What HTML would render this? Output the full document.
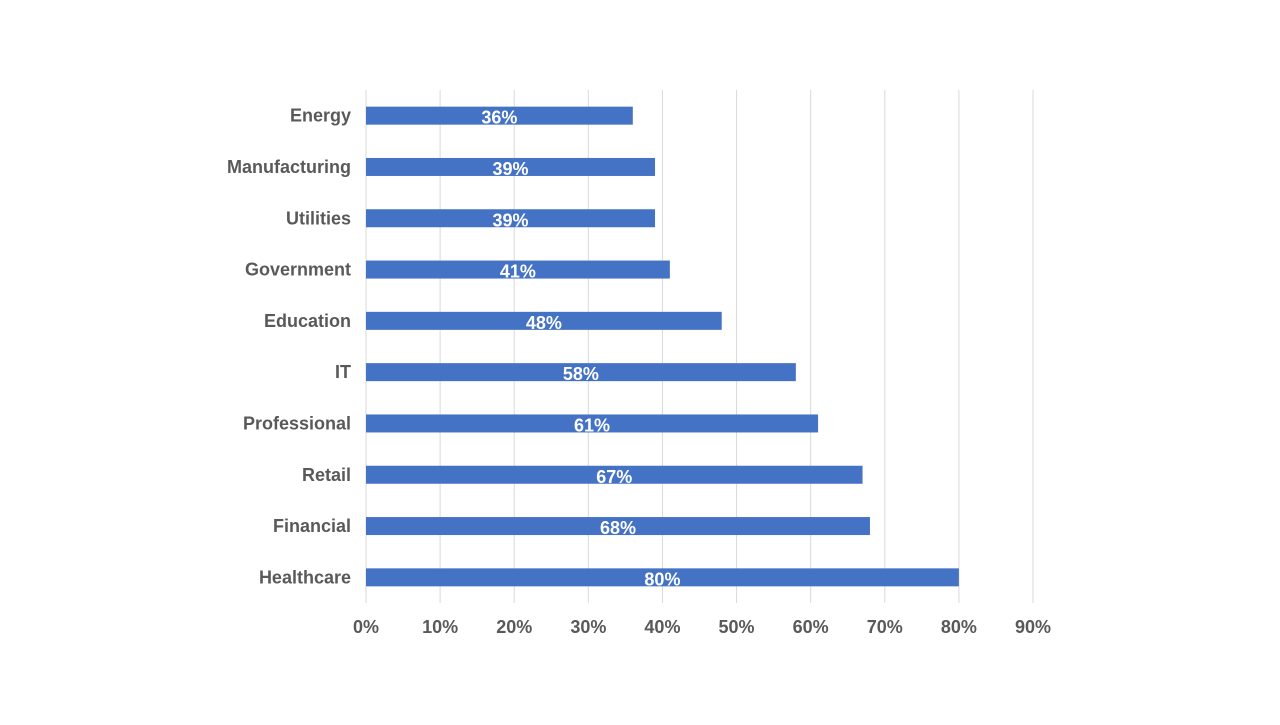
<!DOCTYPE html>
<html><head><meta charset="utf-8"><style>
body{margin:0;background:#fff;width:1280px;height:720px;overflow:hidden}
svg text{font-family:"Liberation Sans",Arial,sans-serif;font-weight:bold;font-size:18px}
</style></head><body>
<svg id="chart" width="1280" height="720" xmlns="http://www.w3.org/2000/svg"></svg>
<script>
const categories=["Energy","Manufacturing","Utilities","Government","Education","IT","Professional","Retail","Financial","Healthcare"];
const values=[36,39,39,41,48,58,61,67,68,80];
const ticks=[0,10,20,30,40,50,60,70,80,90];
{
const svg=document.getElementById('chart');
const NS="http://www.w3.org/2000/svg";
const x0=366,x1=1033,plotTop=90,plotBottom=603;
const xs=v=>x0+(v/90)*(x1-x0);
const band=(plotBottom-plotTop)/categories.length;
const yc=i=>plotTop+band*(i+0.5);
function mk(t,a,txt){const e=document.createElementNS(NS,t);for(const k in a)e.setAttribute(k,a[k]);if(txt!==undefined)e.textContent=txt;svg.appendChild(e);return e;}
ticks.forEach(t=>{
 const g=mk('line',{x1:xs(t),x2:xs(t),y1:plotTop,y2:plotBottom,stroke:'#d9d9d9','stroke-width':1});
 
 
 const l=mk('text',{x:xs(t),y:633,'text-anchor':'middle',fill:'#595959'},t+'%');
 
 
});
categories.forEach((c,i)=>{
 const y=yc(i);
 const r=mk('rect',{x:x0,y:y-9,width:xs(values[i])-x0,height:18,fill:'#4472c4'});
 
 
 const cl=mk('text',{x:351,y:y+6,'text-anchor':'end',fill:'#595959'},c);
 
 
 const vl=mk('text',{x:(x0+xs(values[i]))/2,y:y+8,'text-anchor':'middle',fill:'#fff'},values[i]+'%');
 
 
});
}
</script>
</body></html>
